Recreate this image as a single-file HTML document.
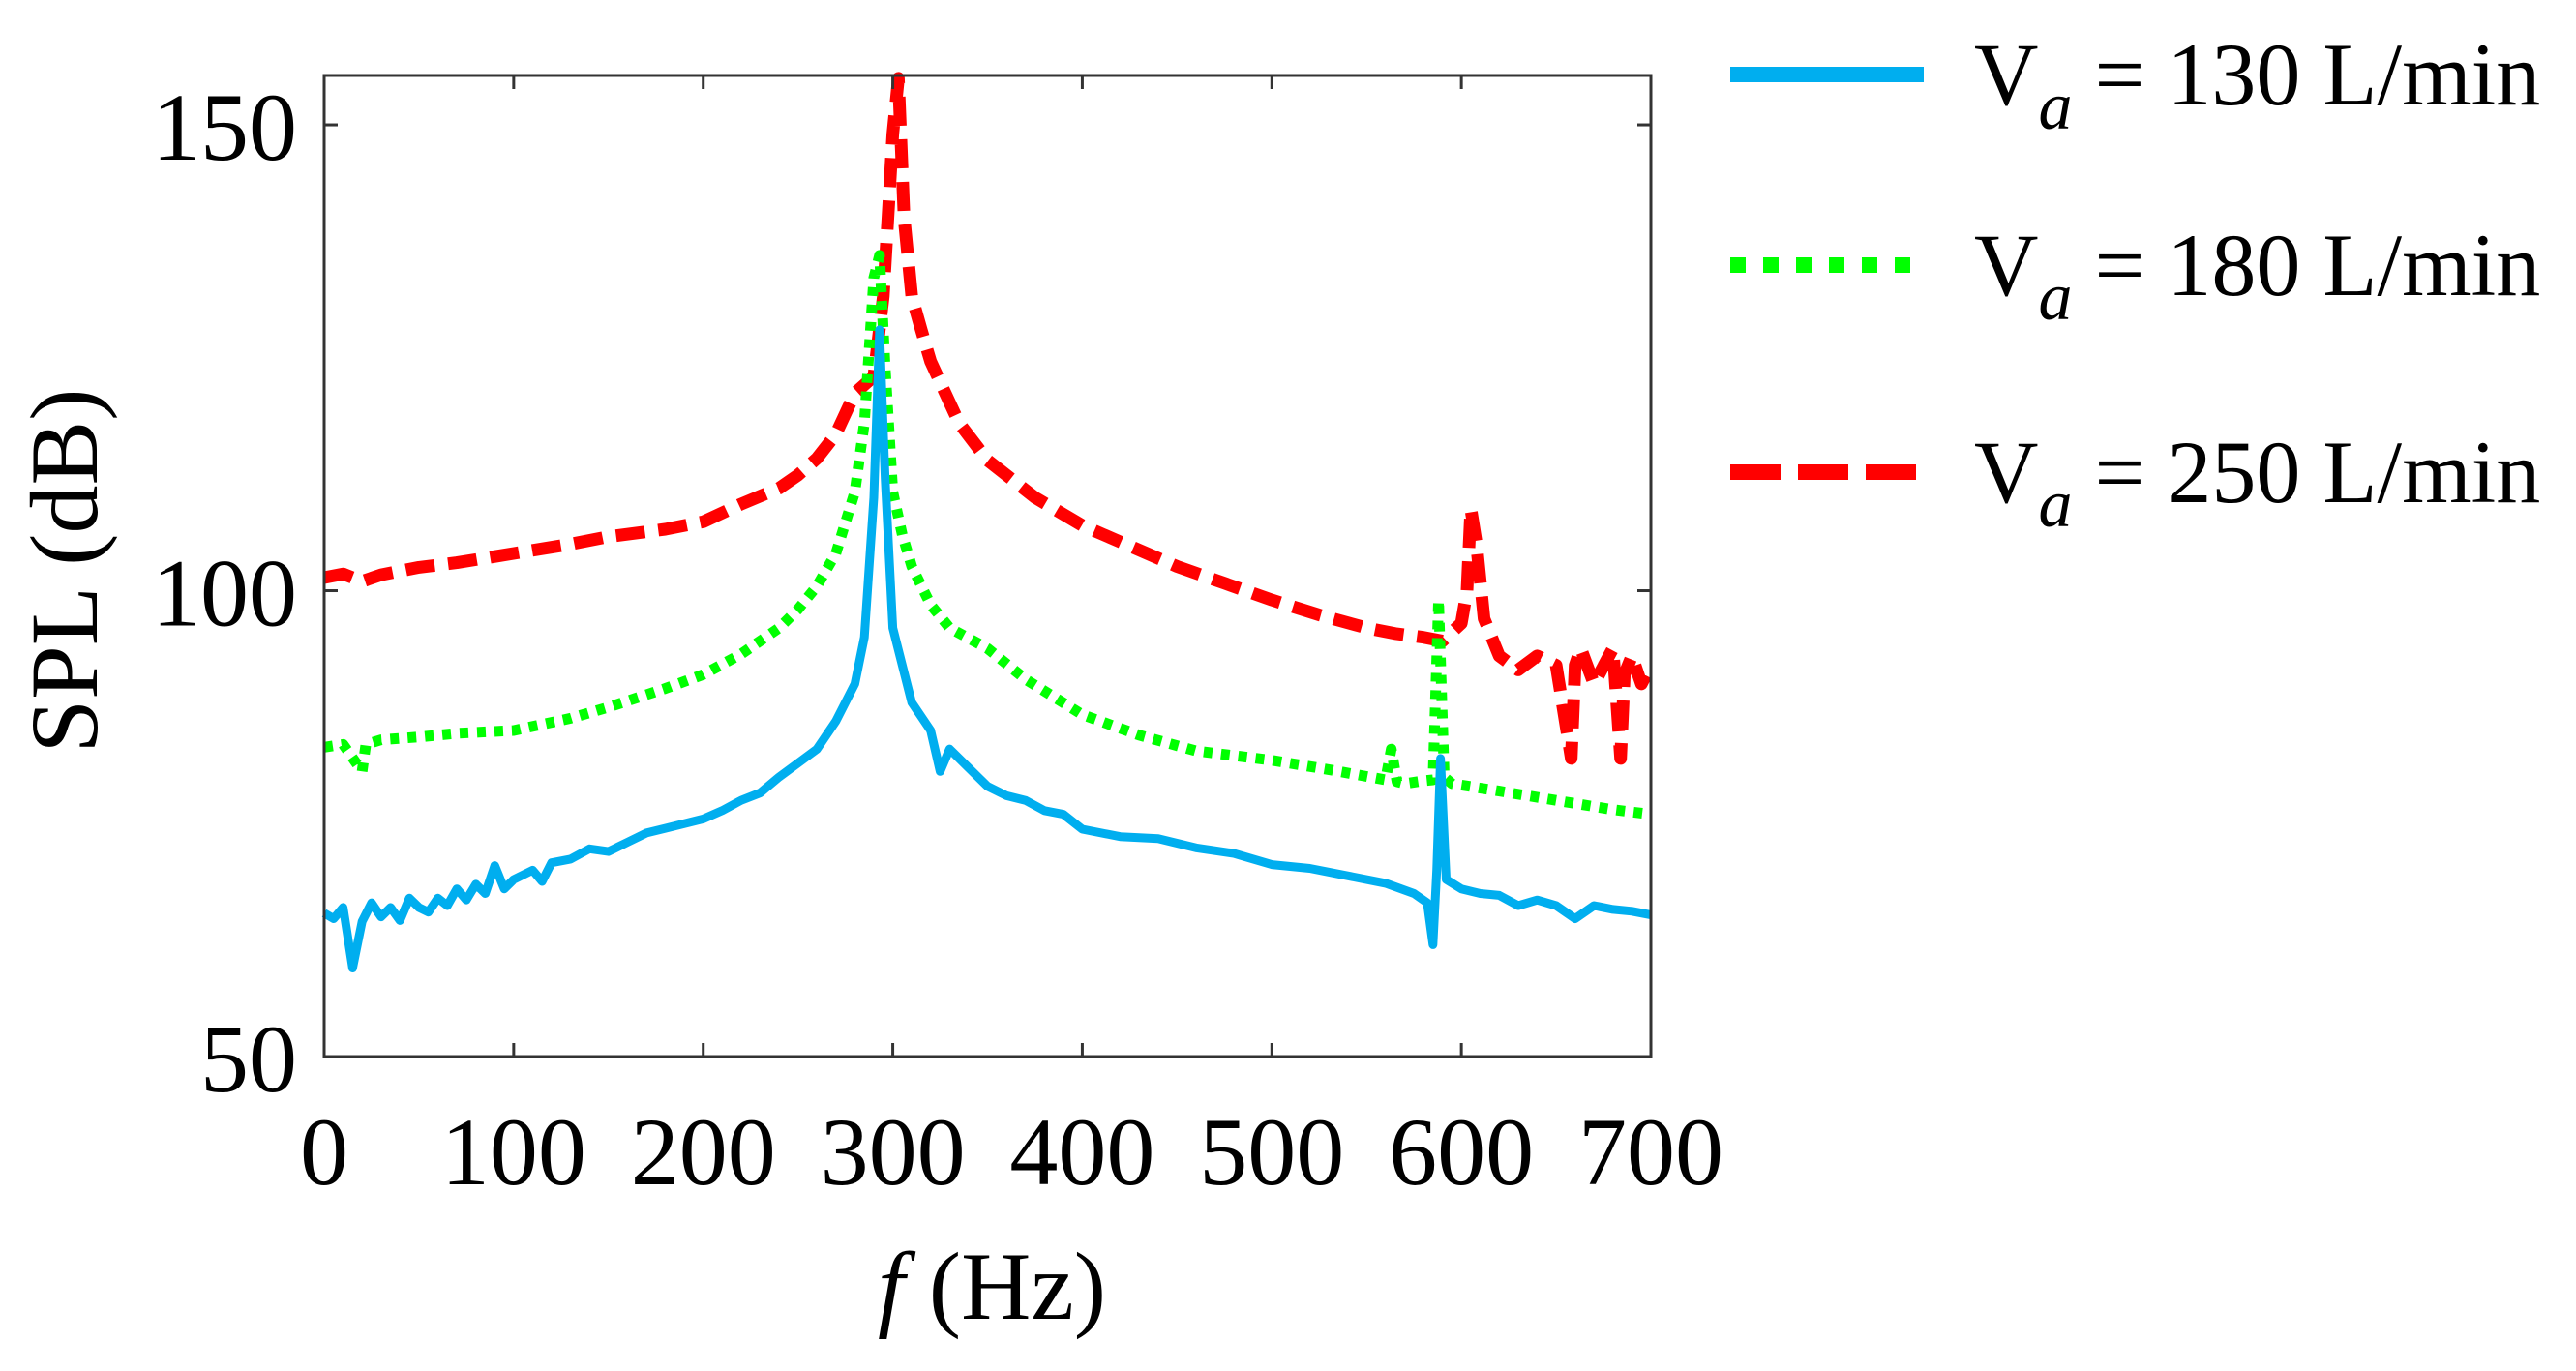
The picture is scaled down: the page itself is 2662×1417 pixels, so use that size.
<!DOCTYPE html>
<html><head><meta charset="utf-8"><style>
html,body{margin:0;padding:0;background:#fff;}
svg{display:block;font-family:"Liberation Serif",serif;}
</style></head><body>
<svg id="chart" width="2662" height="1417" viewBox="0 0 2662 1417" xmlns="http://www.w3.org/2000/svg">
<g id="plot"></g>
<g id="axes"></g>
<text transform="translate(100,590) rotate(-90)" text-anchor="middle" font-size="100" fill="#000">SPL (dB)</text>
<text x="1025" y="1363" text-anchor="middle" font-size="100" fill="#000"><tspan font-style="italic">f</tspan> (Hz)</text>
<g>
<line x1="1788" y1="77" x2="1988" y2="77" stroke="#00aeef" stroke-width="16"/>
<text x="2040" y="108" font-size="92" fill="#000">V<tspan font-style="italic" font-size="70" dy="25">a</tspan><tspan dy="-25"> = 130 L/min</tspan></text>
<line x1="1788" y1="274" x2="1980" y2="274" stroke="#00ff00" stroke-width="16" stroke-dasharray="16 18"/>
<text x="2040" y="305" font-size="92" fill="#000">V<tspan font-style="italic" font-size="70" dy="25">a</tspan><tspan dy="-25"> = 180 L/min</tspan></text>
<line x1="1788" y1="488" x2="1980" y2="488" stroke="#ff0000" stroke-width="16" stroke-dasharray="52 18"/>
<text x="2040" y="519" font-size="92" fill="#000">V<tspan font-style="italic" font-size="70" dy="25">a</tspan><tspan dy="-25"> = 250 L/min</tspan></text>
</g>
</svg>
<script>
const xTicks=[0,100,200,300,400,500,600,700];
const yTicks=[50,100,150];
const f130=[0,5,10,15,20,25,30,35,40,45,50,55,60,65,70,75,80,85,90,95,100,110,115,120,130,140,150,160,170,180,190,200,210,220,230,240,250,260,270,280,285,290,293,296,300,305,310,320,325,330,340,350,360,370,380,390,400,420,440,460,480,500,520,540,560,575,582,585,587,589,592,600,610,620,630,640,650,660,670,680,690,700];
const v130=[65.4,64.8,66,59.5,64.5,66.5,65,66,64.6,67,66,65.5,67,66.2,68,66.8,68.5,67.5,70.5,68,69,70,68.8,70.8,71.2,72.3,72,73,74,74.5,75,75.5,76.4,77.5,78.3,80,81.5,83,86,90,95,110,128,112,96,92,88,85,80.6,83,81,79,78,77.5,76.4,76,74.4,73.6,73.4,72.4,71.8,70.6,70.2,69.4,68.6,67.5,66.5,62,70,82,69,68,67.5,67.3,66.2,66.8,66.2,64.8,66.2,65.8,65.6,65.2];
const f180=[0,10,20,22,30,50,70,100,130,150,180,200,220,240,250,260,270,280,285,290,293,296,300,305,310,320,330,350,370,400,430,460,500,530,560,563,566,570,580,585,588,591,595,620,650,680,700];
const v180=[83.2,83.5,80.6,83.5,84,84.3,84.7,85,86.3,87.5,89.5,91,93.2,96,98,100.5,104,110.6,118,133.6,136,124,110.6,106,102.6,98.5,96,93.8,90.5,86.7,84.5,82.8,81.8,80.8,79.7,83,79.5,79.3,79.6,79.7,99,80,79.3,78.5,77.5,76.5,76];
const f250=[0,10,20,30,50,70,100,130,150,180,200,220,240,250,260,270,280,290,295,300,303,306,310,315,320,335,350,375,400,425,450,475,500,525,550,565,580,590,600,603,605,608,612,620,630,640,650,658,660,663,670,680,684,686,690,695,700];
const v250=[101.4,101.8,101,101.7,102.5,103,104,105,105.8,106.6,107.4,109.3,111,112.4,114.2,116.8,121.2,123,131.6,149,155,140,131.6,128,124.6,118,114,110,107,104.8,102.6,100.8,99,97.4,96,95.4,95,94.6,96.5,100,108.8,105,97,93,91.5,93,92,82,92,93.8,90,93.8,82,91,93,90,92];
const L=335,R=1706,T=78,B=1092,ymin=50,ymax=155.3;
const sx=v=>L+(v-0)/(700-0)*(R-L);
const sy=v=>B-(v-ymin)/(ymax-ymin)*(B-T);
const NS="http://www.w3.org/2000/svg";
const plot=document.getElementById('plot'),axes=document.getElementById('axes');
function path(fs,vs,color,w,dash,name){
  const p=document.createElementNS(NS,'path');
  let d='';
  for(let i=0;i<fs.length;i++){const yy=Math.max(T,sy(vs[i]));d+=(i?'L':'M')+sx(fs[i]).toFixed(1)+' '+yy.toFixed(1);}
  p.setAttribute('d',d);p.setAttribute('fill','none');p.setAttribute('stroke',color);
  p.setAttribute('stroke-width',w);p.setAttribute('stroke-linejoin','round');
  if(dash)p.setAttribute('stroke-dasharray',dash);
  
  
  plot.appendChild(p);
}
path(f250,v250,'#ff0000',13,'30 14','series-250');
path(f180,v180,'#00ff00',11,'9 9','series-180');
path(f130,v130,'#00aeef',9,null,'series-130');
const box=document.createElementNS(NS,'rect');
box.setAttribute('x',L);box.setAttribute('y',T);box.setAttribute('width',R-L);box.setAttribute('height',B-T);
box.setAttribute('fill','none');box.setAttribute('stroke','#333');box.setAttribute('stroke-width','3');


axes.appendChild(box);
xTicks.forEach(t=>{
  const x=sx(t);
  [[B,B-14],[T,T+14]].forEach(([a,b])=>{const l=document.createElementNS(NS,'line');l.setAttribute('x1',x);l.setAttribute('x2',x);l.setAttribute('y1',a);l.setAttribute('y2',b);l.setAttribute('stroke','#333');l.setAttribute('stroke-width','3');
  
  
  axes.appendChild(l);});
  const tx=document.createElementNS(NS,'text');tx.setAttribute('x',x);tx.setAttribute('y',B+132);tx.setAttribute('text-anchor','middle');tx.setAttribute('font-size','100');tx.textContent=t;
  
  
  axes.appendChild(tx);
});
yTicks.forEach(t=>{
  const y=sy(t);
  [[L,L+14],[R,R-14]].forEach(([a,b])=>{const l=document.createElementNS(NS,'line');l.setAttribute('x1',a);l.setAttribute('x2',b);l.setAttribute('y1',y);l.setAttribute('y2',y);l.setAttribute('stroke','#333');l.setAttribute('stroke-width','3');
  
  
  axes.appendChild(l);});
  const tx=document.createElementNS(NS,'text');tx.setAttribute('x',L-28);tx.setAttribute('y',y+36);tx.setAttribute('text-anchor','end');tx.setAttribute('font-size','100');tx.textContent=t;
  
  
  axes.appendChild(tx);
});
</script>
</body></html>
